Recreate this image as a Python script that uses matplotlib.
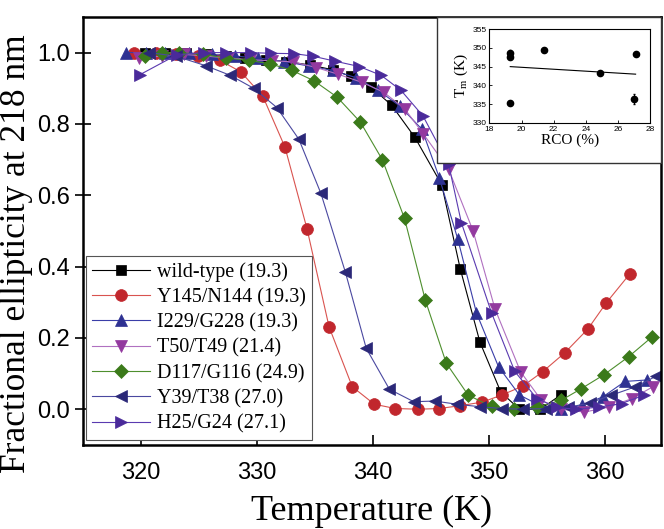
import numpy as np
import matplotlib
matplotlib.use("Agg")
import matplotlib.pyplot as plt
from matplotlib.patches import Rectangle

# curvas de desnaturacao: temperatura (K) e elipticidade fracional
T_wt = [320.3, 322.1, 323.9, 325.6, 327.3, 329.0, 330.8, 332.5, 334.6, 336.5, 338.1, 339.8,
        341.6, 343.6, 345.9, 347.5, 349.2, 351.0, 352.6, 354.4, 356.2]
f_wt = [1.0, 1.0, 0.998, 0.995, 0.99, 0.985, 0.98, 0.975, 0.965, 0.952, 0.933, 0.904,
        0.852, 0.762, 0.63, 0.394, 0.188, 0.048, 0.0, 0.0, 0.041]

T_y145 = [319.4, 321.3, 323.0, 324.9, 326.8, 328.6, 330.5, 332.4, 334.3, 336.2, 338.2, 340.1,
          341.9, 343.9, 345.7, 347.5, 349.4, 351.1, 352.9, 354.6, 356.5, 358.5, 360.1, 362.1]
f_y145 = [1.0, 1.0, 0.995, 0.99, 0.978, 0.946, 0.877, 0.735, 0.506, 0.231, 0.063, 0.014,
          0.002, 0.0, 0.002, 0.01, 0.02, 0.04, 0.065, 0.105, 0.158, 0.225, 0.299, 0.379]

T_i229 = [318.7, 320.4, 322.1, 324.1, 326.1, 328.1, 330.1, 332.3, 334.5, 336.5, 338.5, 340.4,
          342.3, 344.2, 345.7, 347.3, 348.9, 350.8, 352.6, 354.4, 356.2, 358.0, 359.8, 361.7, 363.6]
f_i229 = [1.0, 1.0, 1.0, 0.998, 0.995, 0.99, 0.985, 0.975, 0.962, 0.95, 0.93, 0.895,
          0.85, 0.785, 0.649, 0.476, 0.27, 0.119, 0.04, 0.01, 0.0, 0.011, 0.035, 0.078, 0.082]

T_t50 = [319.8, 321.8, 323.7, 325.6, 327.5, 329.4, 331.3, 333.1, 335.1, 337.0, 339.0, 340.9,
         342.7, 344.3, 346.5, 348.6, 350.5, 352.7, 354.5, 356.2, 358.2, 360.3, 362.3, 364.1]
f_t50 = [0.985, 0.99, 0.995, 0.99, 0.985, 0.98, 0.977, 0.974, 0.958, 0.939, 0.917, 0.889,
         0.843, 0.773, 0.673, 0.501, 0.281, 0.105, 0.025, 0.0, -0.008, 0.006, 0.03, 0.063]

T_d117 = [320.3, 321.8, 323.3, 325.3, 327.3, 329.3, 331.1, 333.0, 334.9, 336.9, 338.9, 340.8,
          342.7, 344.5, 346.3, 348.2, 350.2, 352.1, 354.1, 356.2, 357.9, 359.9, 362.0, 364.0]
f_d117 = [0.99, 1.0, 1.0, 0.995, 0.985, 0.978, 0.969, 0.95, 0.921, 0.875, 0.805, 0.699,
          0.535, 0.305, 0.129, 0.039, 0.008, 0.0, 0.006, 0.025, 0.057, 0.097, 0.147, 0.202]

T_y39 = [320.7, 323.0, 325.6, 327.7, 329.7, 331.7, 333.6, 335.5, 337.6, 339.4, 341.4, 343.5,
         345.3, 347.2, 349.2, 351.1, 352.9, 354.9, 356.8, 358.7, 360.5, 362.6, 364.4]
f_y39 = [1.0, 0.99, 0.963, 0.936, 0.9, 0.846, 0.757, 0.605, 0.385, 0.171, 0.056, 0.021,
         0.023, 0.014, 0.007, 0.002, 0.0, 0.002, 0.005, 0.018, 0.039, 0.063, 0.093]

T_h25 = [319.9, 323.1, 325.4, 327.35, 329.45, 331.2, 333.2, 334.8, 336.7, 338.8, 340.7, 342.4,
         344.3, 346.5, 347.6, 350.2, 352.2, 354.1, 355.8, 357.5, 359.5, 361.4, 363.3]
f_h25 = [0.938, 0.994, 1.0, 1.0, 1.0, 0.998, 0.997, 0.99, 0.976, 0.961, 0.936, 0.894,
         0.822, 0.687, 0.523, 0.27, 0.106, 0.03, 0.005, 0.0, 0.006, 0.016, 0.039]

rotulos = ['wild-type (19.3)', 'Y145/N144 (19.3)', 'I229/G228 (19.3)', 'T50/T49 (21.4)',
           'D117/G116 (24.9)', 'Y39/T38 (27.0)', 'H25/G24 (27.1)']

# dados do grafico menor: RCO (%) e Tm (K)
rco = [19.3, 19.3, 19.3, 21.4, 24.9, 27.0, 27.1]
tm = [348.6, 335.2, 347.7, 349.5, 343.4, 336.4, 348.3]
tm_erro = [0.8, 0.4, 0.6, 0.4, 0.4, 1.3, 0.4]

serif = 'Liberation Serif'
sans = 'Liberation Sans'

fig = plt.figure(figsize=(6.64, 5.29), dpi=100)
ax = fig.add_axes([0.125, 0.159, 0.8705, 0.809])

# (T, f, marcador, cor do marcador, cor da linha, largura, tamanho)
series = [
    (T_wt, f_wt, 's', 'black', 'black', 0.8, 7.5),
    (T_y145, f_y145, 'o', '#c1272d', '#d9534f', 0.8, 8.5),
    (T_i229, f_i229, '^', '#2e3192', '#3a3ea8', 0.8, 9),
    (T_t50, f_t50, 'v', '#93399f', '#b070c0', 0.8, 9),
    (T_d117, f_d117, 'D', '#3b7a1a', '#4e8f2e', 0.8, 7),
    (T_y39, f_y39, '<', '#2b2878', '#4a48a0', 0.8, 9),
    (T_h25, f_h25, '>', '#4a2a9a', '#5a3ab0', 0.8, 9),
]
for (T, f, m, cm, cl, lw, ms), rot in zip(series, rotulos):
    ax.plot(T, f, color=cl, lw=lw, marker=m, ms=ms, mfc=cm, mec=cm, mew=0.5, label=rot)

ax.set_xlim(315, 364.8)
ax.set_ylim(-0.1, 1.1)
ax.set_xticks([320, 330, 340, 350, 360])
ax.set_yticks([0.0, 0.2, 0.4, 0.6, 0.8, 1.0])
ax.set_yticklabels(['0.0', '0.2', '0.4', '0.6', '0.8', '1.0'])
ax.tick_params(axis='x', direction='in', length=7, width=1.2, labelsize=17, pad=12)
ax.tick_params(axis='y', direction='inout', length=12, width=1.2, labelsize=17)
for lab in ax.get_xticklabels() + ax.get_yticklabels():
    lab.set_fontfamily(sans)
for s in ax.spines.values():
    s.set_linewidth(1.8)

ax.set_xlabel('Temperature (K)', fontsize=26, family=serif)
ax.xaxis.set_label_coords(0.5, -0.118)
ax.set_ylabel('Fractional ellipticity at 218 nm', fontsize=25.5, family=serif)
ax.yaxis.set_label_coords(-0.086, 0.447)

leg = ax.legend(loc='lower left', bbox_to_anchor=(0.005, 0.012), prop={'family': serif, 'size': 14.5},
                frameon=True, fancybox=False, edgecolor='#555555', framealpha=1,
                handlelength=2.9, handletextpad=0.35, labelspacing=0.3, borderpad=0.3,
                borderaxespad=0)
leg.get_frame().set_linewidth(0.8)

# moldura do grafico menor
fig.patches.append(Rectangle((437 / 664, 1 - 163 / 529), 224 / 664, 146 / 529,
                             transform=fig.transFigure, fill=True, facecolor='white',
                             edgecolor='#333333', lw=1.0, zorder=3))

ins = fig.add_axes([0.737, 0.768, 0.242, 0.1766])
ins.set_zorder(5)
ins.errorbar(rco, tm, yerr=tm_erro, fmt='o', color='black', ms=4.5, capsize=1, elinewidth=0.8)
a, b = np.polyfit(rco, tm, 1)
xx = np.array([min(rco), max(rco)])
ins.plot(xx, a * xx + b, color='black', lw=0.8)
ins.set_xlim(18, 28)
ins.set_ylim(330, 355)
ins.set_xticks([18, 20, 22, 24, 26, 28])
ins.set_yticks([330, 335, 340, 345, 350, 355])
ins.tick_params(direction='in', length=2, width=0.6, labelsize=6, pad=2)
for lab in ins.get_xticklabels() + ins.get_yticklabels():
    lab.set_fontfamily(sans)
for s in ins.spines.values():
    s.set_linewidth(0.8)
ins.set_xlabel('RCO (%)', fontsize=11, family=serif, labelpad=1)
ins.set_ylabel('T$_\\mathregular{m}$ (K)', fontsize=11, family=serif, labelpad=2)

fig.savefig('out.png', dpi=100)
